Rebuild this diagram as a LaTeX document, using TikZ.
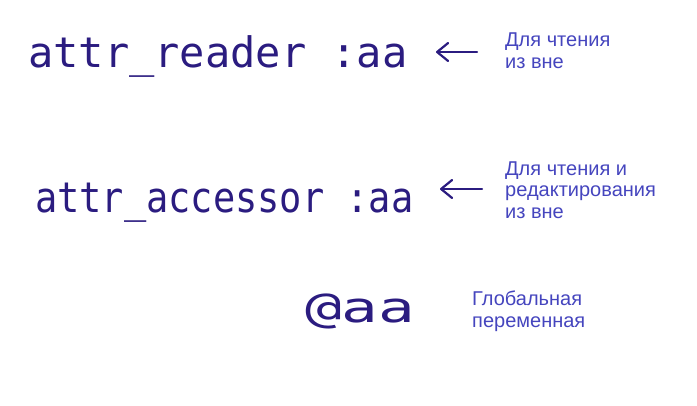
\documentclass[tikz,border=0pt]{standalone}
\usepackage{fontspec}
\setmainfont{Liberation Sans}
\newfontfamily\handfont{DejaVu Sans Mono}
\usetikzlibrary{arrows.meta, positioning}
\definecolor{inkhand}{HTML}{2B1C80}
\definecolor{inklabel}{HTML}{4545BE}

\begin{document}
\begin{tikzpicture}[
    x=1pt, y=-1pt,
    code node/.style={anchor=base west, inner sep=0pt, text=inkhand, transform shape, font=\handfont\fontsize{42}{42}\selectfont},
    note node/.style={anchor=base west, inner sep=0pt, text=inklabel, align=left, font=\fontsize{20}{21.5}\selectfont},
    hand arrow/.style={draw=inkhand, line width=2.2pt, line cap=round, -{Straight Barb[length=11pt, width=18pt, round]}}
]
    \useasboundingbox (0,0) rectangle (697,405);

    % --- attr_reader ---
    \node[code node] (Reader) at (28, 67) {attr\_reader :aa};
    \coordinate (ReaderFrom) at (477, 52);
    \coordinate (ReaderTo) at (436, 52);
    \draw[hand arrow] (ReaderFrom) -- (ReaderTo);
    \node[note node] (ReaderNote) at (505, 68) {Для чтения\\из вне};

    % --- attr_accessor ---
    \node[code node, xscale=0.88] (Accessor) at (35, 212) {attr\_accessor :aa};
    \coordinate (AccessorFrom) at (482, 189);
    \coordinate (AccessorTo) at (440, 189);
    \draw[hand arrow] (AccessorFrom) -- (AccessorTo);
    \node[note node] (AccessorNote) at (505, 218) {Для чтения и\\редактирования\\из вне};

    % --- @aa ---
    \node[code node, xscale=1.45] (Global) at (305, 322) {@aa};
    \node[note node] (GlobalNote) at (472, 327) {Глобальная\\переменная};
\end{tikzpicture}
\end{document}
